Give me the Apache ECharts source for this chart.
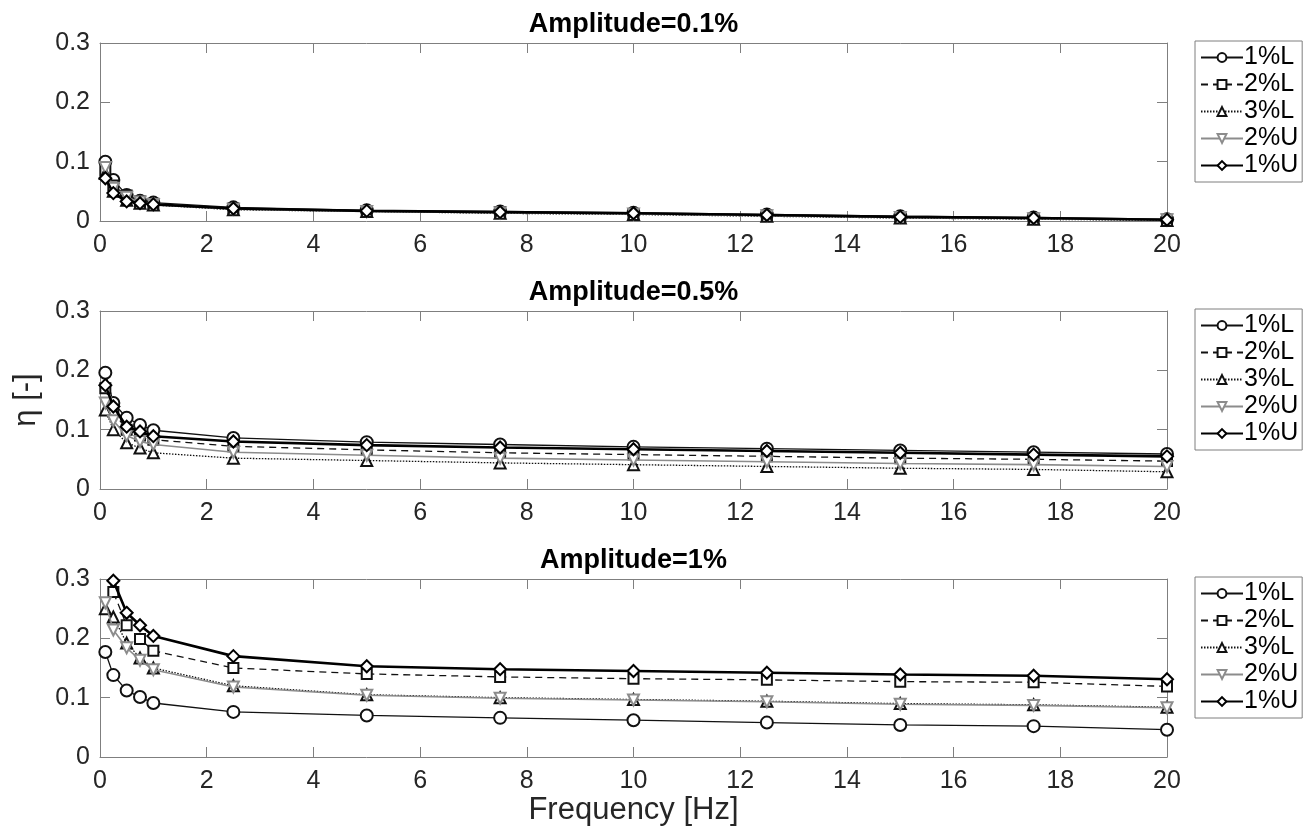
<!DOCTYPE html>
<html>
<head>
<meta charset="utf-8">
<script src="https://cdn.jsdelivr.net/npm/echarts@6/dist/echarts.min.js"></script>
<style>
html, body { margin: 0; background: #fff; }
#chart { width: 1315px; height: 827px; }
</style>
</head>
<body>
<div id="chart"></div>
<script>
// frequencies [Hz]
var freq = [0.1, 0.25, 0.5, 0.75, 1, 2.5, 5, 7.5, 10, 12.5, 15, 17.5, 20];
var seriesNames = ['1%L', '2%L', '3%L', '2%U', '1%U'];
var panelTitles = ['Amplitude=0.1%', 'Amplitude=0.5%', 'Amplitude=1%'];

// Amplitude = 0.1%
var a01_L1 = [0.100, 0.069, 0.044, 0.034, 0.031, 0.023, 0.018, 0.016, 0.014, 0.011, 0.008, 0.006, 0.003];
var a01_L2 = [0.085, 0.060, 0.043, 0.033, 0.029, 0.021, 0.017, 0.015, 0.012, 0.009, 0.006, 0.004, 0.002];
var a01_L3 = [0.080, 0.050, 0.035, 0.030, 0.027, 0.019, 0.016, 0.013, 0.011, 0.008, 0.005, 0.003, 0.001];
var a01_U2 = [0.090, 0.055, 0.040, 0.032, 0.028, 0.020, 0.016, 0.014, 0.012, 0.009, 0.006, 0.004, 0.002];
var a01_U1 = [0.072, 0.047, 0.033, 0.030, 0.028, 0.021, 0.017, 0.015, 0.013, 0.010, 0.007, 0.005, 0.002];

// Amplitude = 0.5%
var a05_L1 = [0.196, 0.145, 0.120, 0.108, 0.099, 0.086, 0.079, 0.075, 0.071, 0.068, 0.065, 0.062, 0.059];
var a05_L2 = [0.170, 0.130, 0.100, 0.090, 0.083, 0.072, 0.066, 0.061, 0.058, 0.055, 0.052, 0.050, 0.047];
var a05_L3 = [0.133, 0.100, 0.078, 0.069, 0.061, 0.052, 0.048, 0.044, 0.041, 0.038, 0.035, 0.033, 0.029];
var a05_U2 = [0.145, 0.115, 0.090, 0.080, 0.075, 0.062, 0.057, 0.052, 0.049, 0.046, 0.043, 0.041, 0.038];
var a05_U1 = [0.175, 0.139, 0.105, 0.097, 0.089, 0.080, 0.074, 0.070, 0.067, 0.064, 0.061, 0.058, 0.055];

// Amplitude = 1%
var a1_L1 = [0.177, 0.138, 0.112, 0.101, 0.091, 0.076, 0.070, 0.066, 0.062, 0.058, 0.054, 0.052, 0.046];
var a1_L2 = [0.315, 0.278, 0.222, 0.199, 0.179, 0.150, 0.140, 0.135, 0.132, 0.130, 0.127, 0.126, 0.119];
var a1_L3 = [0.250, 0.236, 0.192, 0.167, 0.150, 0.120, 0.105, 0.100, 0.097, 0.094, 0.090, 0.088, 0.084];
var a1_U2 = [0.260, 0.214, 0.184, 0.163, 0.147, 0.118, 0.104, 0.099, 0.096, 0.093, 0.089, 0.087, 0.083];
var a1_U1 = [0.335, 0.297, 0.243, 0.222, 0.204, 0.170, 0.153, 0.148, 0.145, 0.142, 0.139, 0.137, 0.131];

var panels = [
  [a01_L1, a01_L2, a01_L3, a01_U2, a01_U1],
  [a05_L1, a05_L2, a05_L3, a05_U2, a05_U1],
  [a1_L1, a1_L2, a1_L3, a1_U2, a1_U1]
];

var font = 'Liberation Sans, Arial, Helvetica, sans-serif';
var axisColor = '#7f7f7f';
var gridTops = [43, 311, 579];
var plotLeft = 100, plotWidth = 1067, plotHeight = 178;

// line / marker style for each curve
var styles = [
  { symbol: 'emptyCircle', rotate: 0, color: '#111', width: 1.3, type: 'solid', size: 12 },
  { symbol: 'emptyRect', rotate: 0, color: '#111', width: 1.3, type: [7, 5], size: 10 },
  { symbol: 'emptyTriangle', rotate: 0, color: '#111', width: 1.3, type: [1.5, 1.5], size: 11 },
  { symbol: 'emptyTriangle', rotate: 180, color: '#8c8c8c', width: 1.6, type: 'solid', size: 11 },
  { symbol: 'emptyDiamond', rotate: 0, color: '#000', width: 2.6, type: 'solid', size: 12 }
];

var grids = [], xAxes = [], yAxes = [], series = [], legends = [];

gridTops.forEach(function (top, g) {
  grids.push({ left: plotLeft, top: top, width: plotWidth, height: plotHeight });

  // bottom and top x axes
  xAxes.push({
    gridIndex: g, type: 'value', min: 0, max: 20, interval: 2, position: 'bottom',
    axisLine: { show: true, onZero: false, lineStyle: { color: axisColor, width: 1 } },
    axisTick: { show: true, inside: true, length: 10, lineStyle: { color: axisColor } },
    axisLabel: { color: '#262626', fontSize: 25, fontFamily: font, margin: 12 },
    splitLine: { show: false },
    name: g === 2 ? 'Frequency [Hz]' : '',
    nameLocation: 'middle', nameGap: 37,
    nameTextStyle: { color: '#262626', fontSize: 31, fontFamily: font }
  });
  xAxes.push({
    gridIndex: g, type: 'value', min: 0, max: 20, interval: 2, position: 'top',
    axisLine: { show: true, onZero: false, lineStyle: { color: axisColor, width: 1 } },
    axisTick: { show: true, inside: true, length: 10, lineStyle: { color: axisColor } },
    axisLabel: { show: false },
    splitLine: { show: false },
    name: panelTitles[g], nameLocation: 'middle', nameGap: 5,
    nameTextStyle: { color: '#000', fontSize: 27, fontWeight: 'bold', fontFamily: font, verticalAlign: 'bottom' }
  });

  // left and right y axes
  yAxes.push({
    gridIndex: g, type: 'value', min: 0, max: 0.3, interval: 0.1, position: 'left',
    axisLine: { show: true, onZero: false, lineStyle: { color: axisColor, width: 1 } },
    axisTick: { show: true, inside: true, length: 10, lineStyle: { color: axisColor } },
    axisLabel: { color: '#262626', fontSize: 25, fontFamily: font, margin: 10 },
    splitLine: { show: false },
    name: g === 1 ? 'η [-]' : '',
    nameLocation: 'middle', nameGap: 58, nameRotate: 90,
    nameTextStyle: { color: '#262626', fontSize: 31, fontFamily: font }
  });
  yAxes.push({
    gridIndex: g, type: 'value', min: 0, max: 0.3, interval: 0.1, position: 'right',
    axisLine: { show: true, onZero: false, lineStyle: { color: axisColor, width: 1 } },
    axisTick: { show: true, inside: true, length: 10, lineStyle: { color: axisColor } },
    axisLabel: { show: false },
    splitLine: { show: false }
  });

  panels[g].forEach(function (vals, s) {
    var st = styles[s];
    series.push({
      name: seriesNames[s], type: 'line',
      xAxisIndex: g * 2, yAxisIndex: g * 2,
      data: freq.map(function (f, i) { return [f, vals[i]]; }),
      symbol: st.symbol, symbolSize: st.size, symbolRotate: st.rotate,
      showAllSymbol: true, clip: true, animation: false,
      lineStyle: { color: st.color, width: st.width, type: st.type },
      itemStyle: { color: st.color, borderColor: st.color, borderWidth: 1.3 },
      emphasis: { disabled: true },
      z: 2 + s
    });
  });

  legends.push({
    orient: 'vertical', left: 1195, top: top - 2,
    backgroundColor: '#fff', borderColor: '#7f7f7f', borderWidth: 1,
    padding: [4, 4, 4, 5], itemGap: 2, itemWidth: 42, itemHeight: 11,
    selectedMode: false,
    textStyle: { color: '#000', fontSize: 25, fontFamily: font, padding: [0, 0, 0, -4] },
    data: seriesNames
  });
});

var myChart = echarts.init(document.getElementById('chart'), null, { renderer: 'canvas' });
myChart.setOption({
  backgroundColor: '#fff',
  animation: false,
  grid: grids,
  xAxis: xAxes,
  yAxis: yAxes,
  legend: legends,
  series: series
});
</script>
</body>
</html>
